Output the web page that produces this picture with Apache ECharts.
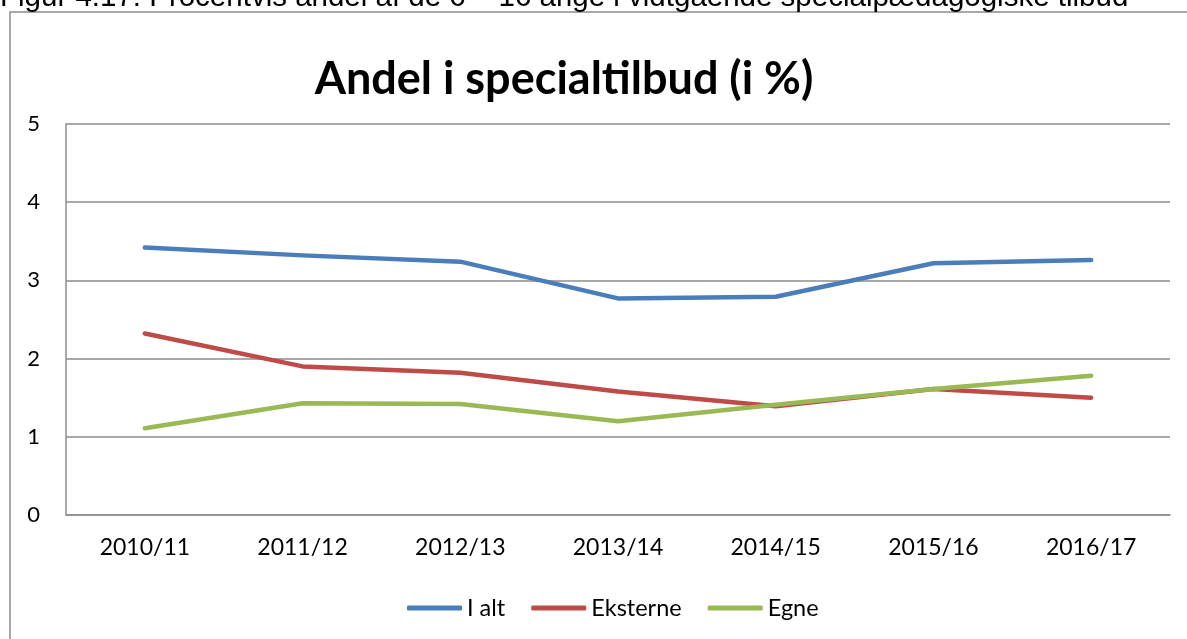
<!DOCTYPE html>
<html>
<head>
<meta charset="utf-8">
<script src="https://cdn.jsdelivr.net/npm/echarts@6/dist/echarts.min.js"></script>
<style>
  html, body { margin: 0; padding: 0; background: #fff; }
  #chart { width: 1187px; height: 639px; }
</style>
</head>
<body>
<div id="chart"></div>
<script>
var years = ["2010/11", "2011/12", "2012/13", "2013/14", "2014/15", "2015/16", "2016/17"];
var iAlt = [3.42, 3.32, 3.24, 2.77, 2.79, 3.22, 3.26];
var eksterne = [2.32, 1.90, 1.82, 1.58, 1.39, 1.61, 1.50];
var egne = [1.11, 1.43, 1.42, 1.20, 1.41, 1.61, 1.78];
var yTicks = [0, 1, 2, 3, 4, 5];

var chart = echarts.init(document.getElementById("chart"));

function lineSeries(name, data, color) {
  return {
    name: name,
    type: "line",
    data: data,
    symbol: "none",
    lineStyle: { color: color, width: 4.5, cap: "round", join: "round" },
    itemStyle: { color: color },
  };
}

var option = {
  animation: false,
  backgroundColor: "#fff",
  textStyle: { fontFamily: "Lato" },
  title: {
    text: "Andel i specialtilbud (i %)",
    left: 559,
    textAlign: "center",
    top: 52,
    textStyle: { fontFamily: "Lato", fontWeight: "bold", fontSize: 45, color: "#000" },
  },
  graphic: [
    {
      // ramme om figuren
      type: "rect",
      z: -1,
      shape: { x: 10, y: 12, width: 1200, height: 700 },
      style: { fill: "none", stroke: "#8c8c8c", lineWidth: 1.5 },
    },
    {
      // afskaaret figurtekst oeverst
      type: "text",
      x: 0,
      y: 13,
      style: {
        text: "Figur 4.17: Procentvis andel af de 6 – 16 årige i vidtgående specialpædagogiske tilbud",
        font: "29.5px 'Liberation Sans'",
        fill: "#000",
        verticalAlign: "bottom",
      },
    },
  ],
  legend: {
    left: 402,
    top: 591,
    icon: "roundRect",
    itemWidth: 55,
    itemHeight: 5,
    itemGap: 26,
    textStyle: { fontFamily: "Lato", fontSize: 23.5, color: "#000" },
    data: ["I alt", "Eksterne", "Egne"],
  },
  grid: { left: 66, right: 17, top: 124, bottom: 124 },
  xAxis: {
    type: "category",
    data: years,
    boundaryGap: true,
    axisTick: { show: false },
    axisLine: { lineStyle: { color: "#8c8c8c", width: 1.5 } },
    axisLabel: { color: "#000", fontSize: 23, margin: 21 },
  },
  yAxis: {
    type: "value",
    min: yTicks[0],
    max: yTicks[yTicks.length - 1],
    interval: 1,
    axisLine: { show: true, lineStyle: { color: "#8c8c8c", width: 1.5 } },
    axisTick: { show: false },
    axisLabel: { color: "#000", fontSize: 22, margin: 26 },
    splitLine: { lineStyle: { color: "#8c8c8c", width: 1.5 } },
  },
  series: [
    lineSeries("I alt", iAlt, "#4a7ebb"),
    lineSeries("Eksterne", eksterne, "#be4b48"),
    lineSeries("Egne", egne, "#98b954"),
  ],
};
chart.setOption(option);
</script>
</body>
</html>
